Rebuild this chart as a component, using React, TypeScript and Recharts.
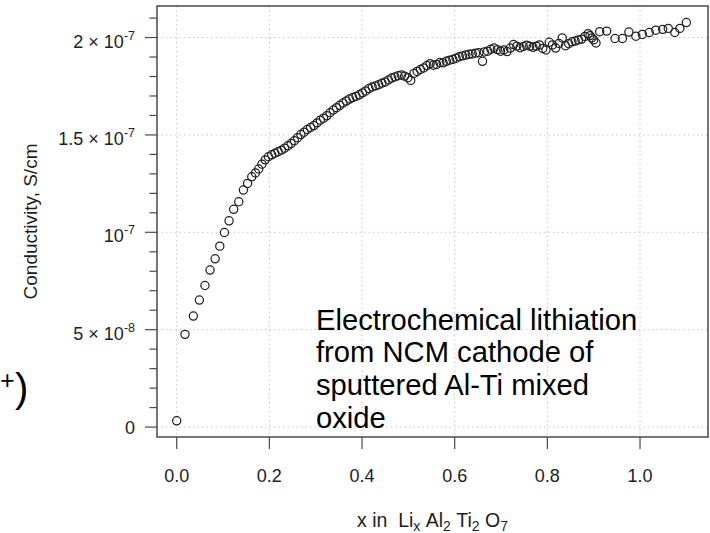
import { ScatterChart, Scatter, XAxis, YAxis, CartesianGrid, ReferenceArea } from "recharts";

const FONT = '"Liberation Sans", Arial, Helvetica, sans-serif';
const INK = "#1e1e1e";
const FRAME = "#4a4a4a";
const GRID = "#c6c6c6";

// x in Li_x Al2 Ti2 O7
const X_VALUES = [
  0.0, 0.018, 0.036, 0.049, 0.061, 0.072, 0.083, 0.093, 0.103, 0.113, 0.123, 0.134, 0.144, 0.153, 0.162, 0.17,
  0.177, 0.184, 0.191, 0.198, 0.205, 0.212, 0.219, 0.226, 0.233, 0.24, 0.247, 0.254, 0.261, 0.268, 0.275, 0.282,
  0.289, 0.296, 0.303, 0.31, 0.317, 0.324, 0.331, 0.338, 0.345, 0.352, 0.359, 0.366, 0.373, 0.38, 0.387, 0.394,
  0.401, 0.408, 0.415, 0.422, 0.429, 0.436, 0.443, 0.45, 0.457, 0.464, 0.471, 0.478, 0.485, 0.492, 0.499, 0.505,
  0.512, 0.519, 0.526, 0.533, 0.54, 0.547, 0.554, 0.561, 0.568, 0.575, 0.582, 0.589, 0.596, 0.603, 0.61, 0.617,
  0.624, 0.631, 0.638, 0.645, 0.652, 0.66, 0.664, 0.671, 0.678, 0.685, 0.692, 0.699, 0.706, 0.713, 0.72, 0.727,
  0.734, 0.741, 0.748, 0.755, 0.762, 0.769, 0.776, 0.783, 0.79, 0.797, 0.804, 0.811, 0.818, 0.825, 0.832, 0.839,
  0.846, 0.853, 0.86, 0.867, 0.874, 0.881, 0.888, 0.892, 0.896, 0.9, 0.905, 0.913, 0.928, 0.946, 0.962, 0.976,
  0.991, 1.005, 1.02, 1.034, 1.049, 1.061, 1.075, 1.086, 1.1,
];

// conductivity, in units of 1e-8 S/cm
const Y_VALUES = [
  0.32, 4.76, 5.7, 6.52, 7.27, 8.06, 8.64, 9.29, 9.99, 10.59, 11.18, 11.57, 12.17, 12.51, 12.85, 13.05,
  13.25, 13.5, 13.72, 13.88, 13.98, 14.06, 14.14, 14.22, 14.32, 14.44, 14.56, 14.7, 14.86, 15.02, 15.14, 15.28,
  15.38, 15.48, 15.62, 15.76, 15.86, 15.98, 16.14, 16.28, 16.4, 16.52, 16.64, 16.74, 16.84, 16.92, 16.98, 17.06,
  17.16, 17.26, 17.38, 17.46, 17.52, 17.58, 17.66, 17.72, 17.82, 17.92, 17.98, 18.04, 18.08, 18.02, 17.94, 17.8,
  18.16, 18.26, 18.36, 18.44, 18.56, 18.66, 18.58, 18.62, 18.72, 18.7, 18.78, 18.84, 18.88, 18.94, 19.02, 19.06,
  19.1, 19.14, 19.16, 19.2, 19.22, 18.78, 19.26, 19.3, 19.4, 19.46, 19.38, 19.3, 19.36, 19.28, 19.46, 19.64,
  19.56, 19.48, 19.54, 19.6, 19.56, 19.5, 19.56, 19.62, 19.44, 19.36, 19.76, 19.62, 19.46, 19.7, 19.98, 19.58,
  19.68, 19.78, 19.82, 19.88, 19.92, 20.06, 20.2, 20.1, 19.98, 19.88, 19.72, 20.3, 20.33, 19.95, 19.95, 20.28,
  20.07, 20.16, 20.26, 20.38, 20.42, 20.47, 20.26, 20.47, 20.77,
];

const X_TICKS = [0, 0.2, 0.4, 0.6, 0.8, 1.0];
const X_TICK_LABELS = ["0.0", "0.2", "0.4", "0.6", "0.8", "1.0"];
const Y_MAJOR = [0, 5, 10, 15, 20];
const Y_TICK_MANTISSA = ["0", "5", "", "1.5", "2"];
const Y_TICK_EXPONENT = ["", "-8", "-7", "-7", "-7"];
const Y_MINOR = [0, 1, 2, 3, 4, 5, 6, 7, 8, 9, 10, 11, 12, 13, 14, 15, 16, 17, 18, 19, 20, 21];

const X_DOMAIN: [number, number] = [-0.0425, 1.1467];
const Y_DOMAIN: [number, number] = [-0.51, 21.62];

const NOTE_LINES = ["Electrochemical lithiation", "from NCM cathode of", "sputtered Al-Ti mixed", "oxide"];

const points = X_VALUES.map((x, i) => ({ x, y: Y_VALUES[i] }));

function XTick({ x, y, payload }: any) {
  const i = X_TICKS.indexOf(payload.value);
  return (
    <g>
      <line x1={x} x2={x} y1={y} y2={y + 12} stroke={FRAME} strokeWidth={1.2} />
      <text x={x} y={y + 45} textAnchor="middle" fontSize={18} fontFamily={FONT} fill={INK}>
        {X_TICK_LABELS[i]}
      </text>
    </g>
  );
}

function YTick({ x, y, payload }: any) {
  const k = Y_MAJOR.indexOf(payload.value);
  const len = k >= 0 ? 12 : 7.5;
  const exp = k >= 0 ? Y_TICK_EXPONENT[k] : "";
  const mant = k >= 0 ? Y_TICK_MANTISSA[k] : "";
  return (
    <g>
      <line x1={x - len} x2={x} y1={y} y2={y} stroke={FRAME} strokeWidth={1.2} />
      {k >= 0 && (
        <text x={x - 22} y={y + (exp ? 10 : 6.5)} textAnchor="end" fontSize={18} fontFamily={FONT} fill={INK}>
          {exp ? (mant ? `${mant} × 10` : "10") : mant}
          {exp && (
            <tspan fontSize={12.5} dy={-8}>
              {exp}
            </tspan>
          )}
        </text>
      )}
    </g>
  );
}

function YTitle() {
  return (
    <text
      x={37}
      y={221.5}
      transform="rotate(-90, 37, 221.5)"
      textAnchor="middle"
      fontSize={19}
      fontFamily={FONT}
      fill={INK}
    >
      Conductivity, S/cm
    </text>
  );
}

function XTitle() {
  const sub = { fontSize: 14 };
  return (
    <text x={432.5} y={527} textAnchor="middle" fontSize={19.5} fontFamily={FONT} fill={INK}>
      {"x in\u00A0 Li"}
      <tspan {...sub} dy={4}>x</tspan>
      <tspan dy={-4}>{"\u00A0Al"}</tspan>
      <tspan {...sub} dy={4}>2</tspan>
      <tspan dy={-4}>{"\u00A0Ti"}</tspan>
      <tspan {...sub} dy={4}>2</tspan>
      <tspan dy={-4}>{"\u00A0O"}</tspan>
      <tspan {...sub} dy={4}>7</tspan>
    </text>
  );
}

export default function App() {
  return (
    <div style={{ position: "absolute", left: 0, top: 0, width: 710, height: 533, background: "#fff" }}>
      <ScatterChart width={710} height={533} margin={{ top: 6, right: 2, bottom: 36, left: 97 }}>
        <CartesianGrid
          stroke={GRID}
          strokeDasharray="1.5 3"
          horizontalValues={Y_MAJOR}
          verticalValues={X_TICKS}
        />
        <XAxis
          type="number"
          dataKey="x"
          domain={X_DOMAIN}
          allowDataOverflow
          ticks={X_TICKS}
          interval={0}
          height={60}
          axisLine={false}
          tickLine={false}
          tickSize={0}
          tickMargin={0}
          tick={<XTick />}
          label={<XTitle />}
        />
        <YAxis
          type="number"
          dataKey="y"
          domain={Y_DOMAIN}
          allowDataOverflow
          ticks={Y_MINOR}
          interval={0}
          width={60}
          axisLine={false}
          tickLine={false}
          tickSize={0}
          tickMargin={0}
          tick={<YTick />}
          label={<YTitle />}
        />
        <ReferenceArea
          x1={X_DOMAIN[0]}
          x2={X_DOMAIN[1]}
          y1={Y_DOMAIN[0]}
          y2={Y_DOMAIN[1]}
          fill="none"
          stroke={FRAME}
          strokeWidth={1.5}
          ifOverflow="visible"
        />
        <Scatter
          data={points}
          isAnimationActive={false}
          shape={(p: any) => (
            <circle cx={p.cx} cy={p.cy} r={4.1} fill="none" stroke="#222" strokeWidth={1.25} />
          )}
        />
      </ScatterChart>
      <svg
        width={710}
        height={533}
        style={{ position: "absolute", left: 0, top: 0, pointerEvents: "none" }}
      >
        <g fontFamily={FONT} fill="#000">
          {NOTE_LINES.map((line, i) => (
            <text key={line} x={316} y={329.5 + i * 32.7} fontSize={29.2}>
              {line}
            </text>
          ))}
          <text x={0} y={389} fontSize={25}>
            +
          </text>
          <text x={15} y={402} fontSize={40}>
            )
          </text>
        </g>
      </svg>
    </div>
  );
}
